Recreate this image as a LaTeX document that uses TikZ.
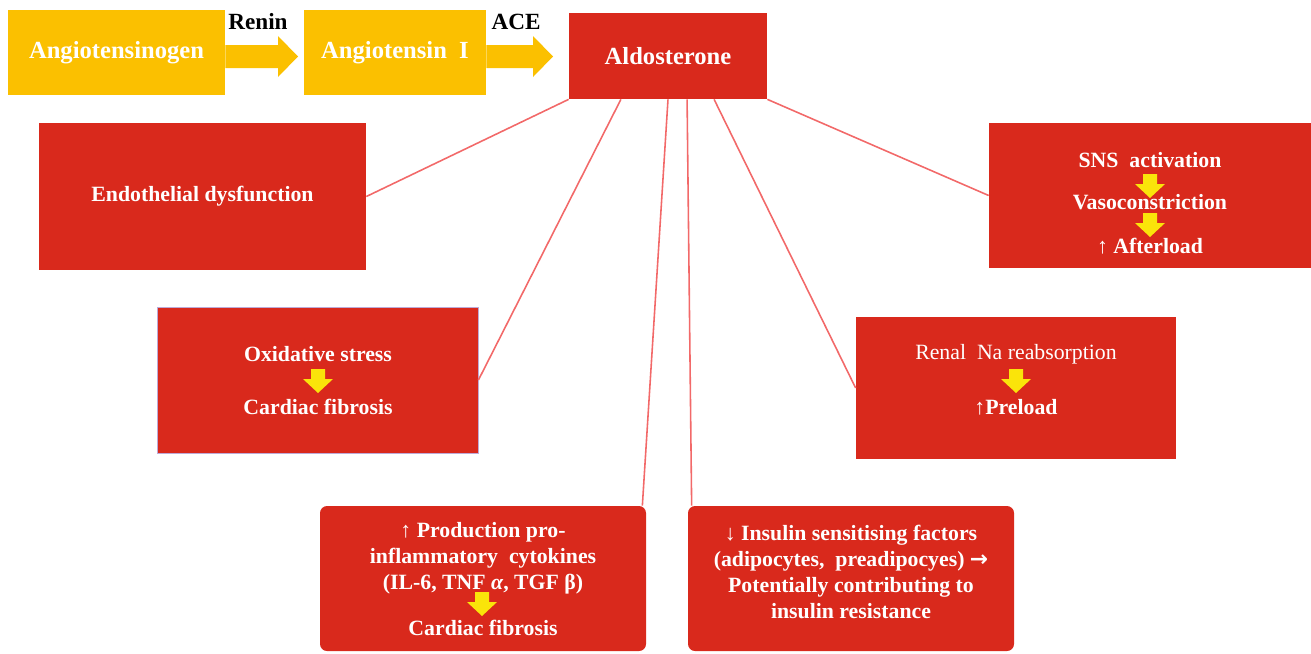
\documentclass[tikz,border=0pt]{standalone}
\usepackage{fontspec}
\setmainfont{Liberation Serif}
\newfontfamily\symfont{DejaVu Sans}
\usetikzlibrary{fit,calc}
\definecolor{boxred}{RGB}{217,41,28}
\definecolor{boxyellow}{RGB}{251,192,0}
\definecolor{arrowyellow}{RGB}{250,228,10}
\definecolor{linkred}{RGB}{242,105,105}
\definecolor{framelilac}{RGB}{190,170,215}
\tikzset{
  redbox/.style={fill=boxred, draw=none, inner sep=0pt},
  yellowbox/.style={fill=boxyellow, draw=none, inner sep=0pt},
  bigtxt/.style={text=white, font=\fontsize{14}{16}\selectfont\bfseries, inner sep=0pt},
  txt/.style={text=white, font=\fontsize{12.4}{14.8}\selectfont\bfseries, inner sep=0pt, align=center},
  plaintxt/.style={text=white, font=\fontsize{12.4}{14.8}\selectfont, inner sep=0pt},
  enzyme/.style={text=black, font=\fontsize{13.2}{15}\selectfont\bfseries, inner sep=0pt},
  link/.style={draw=linkred, line width=0.9pt},
  flowarrow/.style={fill=boxyellow, draw=none},
  downarrow/.pic={\fill[arrowyellow] (-7,0) -- (7,0) -- (7,10) -- (15,10) -- (0,24) -- (-15,10) -- (-7,10) -- cycle;}
}
\begin{document}
\begin{tikzpicture}[x=0.02cm, y=-0.02cm]
\useasboundingbox (0,0) rectangle (1311,653);

% pathway along the top
\node[yellowbox, fit={(8,10) (225,95)}] (agen) {};
\node[bigtxt] at (agen.center) {Angiotensinogen};
\node[yellowbox, fit={(304,10) (486,95)}] (ang1) {};
\node[bigtxt] at (ang1.center) {Angiotensin\ \ I};
\node[redbox, fit={(569,13) (767,99)}] (aldo) {};
\node[bigtxt] at (aldo.center) {Aldosterone};

\fill[flowarrow] (agen.east |- 0,45) -- (278,45) -- (278,36) -- (298,56.5)
  -- (278,77) -- (278,68) -- (agen.east |- 0,68) -- cycle;
\fill[flowarrow] (ang1.east |- 0,45) -- (533,45) -- (533,36) -- (553,56.5)
  -- (533,77) -- (533,68) -- (ang1.east |- 0,68) -- cycle;
\node[enzyme] (renin) at (258,22) {Renin};
\node[enzyme] (ace) at (516,22) {ACE};

% effect boxes
\node[redbox, fit={(39,123) (366,270)}] (endo) {};
\node[txt] at (endo.center) {Endothelial dysfunction};

\node[redbox, fit={(989,123) (1311,268)}] (sns) {};
\node[txt] at (1150,160) {SNS\ \ activation};
\pic at (1150,174) {downarrow};
\node[txt] at (1150,202) {Vasoconstriction};
\pic at (1150,213) {downarrow};
\node[txt] at (1150,246) {\textmd{↑} Afterload};

\node[redbox, draw=framelilac, line width=0.5pt, fit={(157,307) (478,453)}] (oxi) {};
\node[txt] at (318,354) {Oxidative stress};
\pic at (318,369) {downarrow};
\node[txt] at (318,407) {Cardiac fibrosis};

\node[redbox, fit={(856,317) (1176,459)}] (ren) {};
\node[plaintxt] at (1016,354) {Renal\ \ Na reabsorption};
\pic at (1016,369) {downarrow};
\node[txt] at (1016,407) {\textmd{↑}Preload};

\node[redbox, rounded corners=4, fit={(320,506) (646,651)}] (prod) {};
\node[txt] at (483,558) {\textmd{↑} Production pro-\\inflammatory\ \ cytokines\\(IL-6, TNF \textit{α}, TGF β)};
\pic at (482,592) {downarrow};
\node[txt] at (483,628) {Cardiac fibrosis};

\node[redbox, rounded corners=4, fit={(688,506) (1014,651)}] (ins) {};
\node[txt] at (851,571.5) {\textmd{↓} Insulin sensitising factors\\(adipocytes,\ \ preadipocyes) {\symfont\bfseries →}\\Potentially contributing to\\insulin resistance};

% links from aldosterone to its effects
\draw[link] (aldo.south west) -- (endo.east);
\draw[link] ($(aldo.south west)!0.263!(aldo.south east)$) -- (oxi.east);
\draw[link] ($(aldo.south west)!0.5!(aldo.south east)$) -- ([xshift=-0.08cm]prod.north east);
\draw[link] ($(aldo.south west)!0.596!(aldo.south east)$) -- ([xshift=0.08cm]ins.north west);
\draw[link] ($(aldo.south west)!0.732!(aldo.south east)$) -- (ren.west);
\draw[link] (aldo.south east) -- (sns.west);
\end{tikzpicture}
\end{document}
